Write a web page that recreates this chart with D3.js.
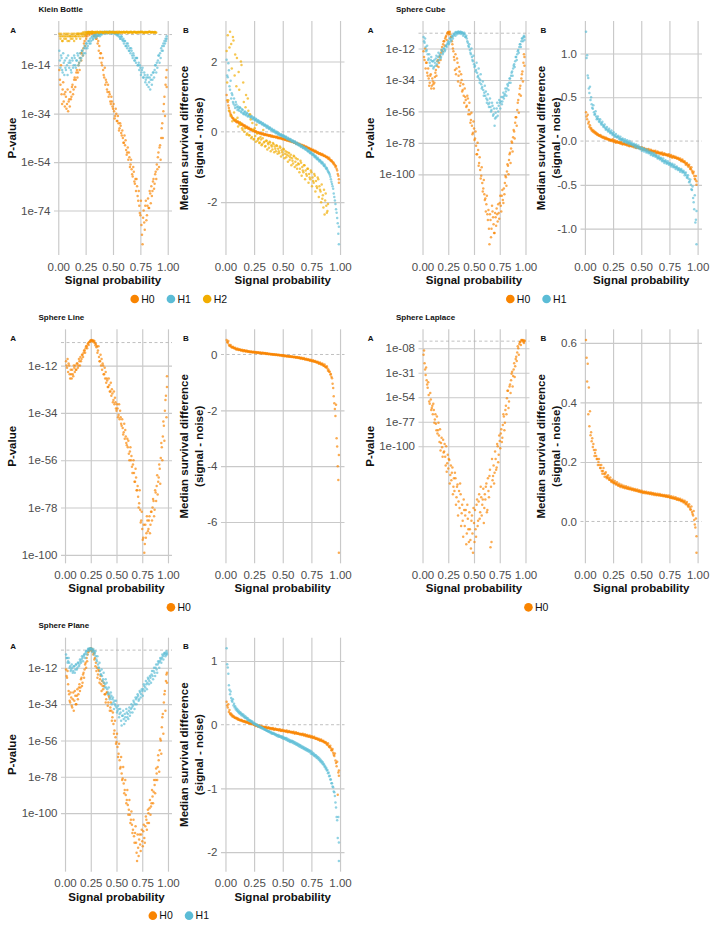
<!DOCTYPE html>
<html>
<head>
<meta charset="utf-8">
<script src="https://cdn.jsdelivr.net/npm/d3@7"></script>
<style>
  body { margin: 0; background: #fff; }
  svg { display: block; }
  text { font-family: "Liberation Sans", Arial, Helvetica, sans-serif; }
  .title { font-size: 8px; font-weight: bold; fill: #111; }
  .tag { font-size: 8px; font-weight: bold; fill: #111; }
  .axtitle { font-size: 11.5px; font-weight: bold; fill: #111; }
  .axis text { font-size: 11.5px; fill: #4d4d4d; }
  .axis line { stroke: #c9c9c9; stroke-width: 1.15; }
  .legend text { font-size: 10.5px; fill: #111; }
</style>
</head>
<body>
<svg id="chart" width="715" height="925"></svg>
<script>
// signal probability for run a and run b
const signalProbA = [0.01,0.02,0.03,0.04,0.05,0.06,0.07,0.08,0.09,0.10,
  0.11,0.12,0.13,0.14,0.15,0.16,0.17,0.18,0.19,0.20,
  0.21,0.22,0.23,0.24,0.25,0.26,0.27,0.28,0.29,0.30,
  0.31,0.32,0.33,0.34,0.35,0.36,0.37,0.38,0.39,0.40,
  0.41,0.42,0.43,0.44,0.45,0.46,0.47,0.48,0.49,0.50,
  0.51,0.52,0.53,0.54,0.55,0.56,0.57,0.58,0.59,0.60,
  0.61,0.62,0.63,0.64,0.65,0.66,0.67,0.68,0.69,0.70,
  0.71,0.72,0.73,0.74,0.75,0.76,0.77,0.78,0.79,0.80,
  0.81,0.82,0.83,0.84,0.85,0.86,0.87,0.88,0.89,0.90,
  0.91,0.92,0.93,0.94,0.95,0.96,0.97,0.98,0.99];
const signalProbB = [0.015,0.025,0.035,0.045,0.055,0.065,0.075,0.085,0.095,0.105,
  0.115,0.125,0.135,0.145,0.155,0.165,0.175,0.185,0.195,0.205,
  0.215,0.225,0.235,0.245,0.255,0.265,0.275,0.285,0.295,0.305,
  0.315,0.325,0.335,0.345,0.355,0.365,0.375,0.385,0.395,0.405,
  0.415,0.425,0.435,0.445,0.455,0.465,0.475,0.485,0.495,0.505,
  0.515,0.525,0.535,0.545,0.555,0.565,0.575,0.585,0.595,0.605,
  0.615,0.625,0.635,0.645,0.655,0.665,0.675,0.685,0.695,0.705,
  0.715,0.725,0.735,0.745,0.755,0.765,0.775,0.785,0.795,0.805,
  0.815,0.825,0.835,0.845,0.855,0.865,0.875,0.885,0.895,0.905,
  0.915,0.925,0.935,0.945,0.955,0.965,0.975,0.985,0.99];
const probTicks = [0, 0.25, 0.5, 0.75, 1];

// p-values are stored as log10(p); two runs (a, b) per hypothesis
// Klein Bottle
const kleinP_H0a = [-16,-22,-26,-24,-29,-31,-27,-30,-33,-28,
  -25,-27,-22,-24,-19,-20,-16,-17,-13,-11,
  -12,-8,-7,-4,-2,-1.2,-0.6,-0.2,-0.8,-0.3,
  -0.9,-0.4,-2,-1.3,-3,-5,-8,-11,-9,-14,
  -16,-19,-22,-21,-25,-27,-26,-30,-29,-32,
  -33,-35,-34,-37,-38,-40,-39,-43,-44,-46,
  -47,-49,-50,-53,-52,-55,-57,-60,-58,-63,
  -66,-64,-70,-72,-76,-80,-88,-74,-82,-70,
  -76,-69,-73,-67,-64,-66,-61,-63,-58,-55,
  -52,-56,-47,-44,-38,-33,-27,-22,-16];
const kleinP_H0b = [-20,-14,-30,-21,-26,-25,-32,-24,-29,-31,
  -28,-23,-26,-20,-23,-17,-19,-14,-16,-9,
  -9,-10,-5,-6,-3,-2,-0.5,-1.5,-0.4,-1,
  -0.3,-1.8,-0.6,-3,-2,-4,-6,-9,-13,-11,
  -18,-15,-20,-24,-22,-25,-29,-27,-31,-30,
  -36,-32,-37,-35,-41,-38,-42,-41,-46,-43,
  -45,-51,-48,-50,-56,-53,-59,-56,-62,-61,
  -61,-68,-66,-75,-70,-84,-77,-79,-72,-78,
  -72,-73,-66,-71,-68,-62,-65,-59,-61,-57,
  -50,-48,-53,-40,-44,-30,-35,-19,-23];
const kleinP_H1a = [-8,-15,-11,-17,-13,-12,-16,-14,-10,-15,
  -13,-17,-12,-14,-11,-15,-12,-10,-13,-9,
  -11,-8,-9,-6,-7,-5,-6,-4,-3,-4,
  -2,-3,-2.4,-1.2,-2,-1,-1.5,-2,-0.6,-1,
  -0.3,-0.8,-0.2,-0.4,-0.9,-0.1,-0.3,-0.5,-1,-0.2,
  -0.6,-1.1,-0.8,-1.4,-2,-2.3,-3,-2.2,-4,-5,
  -4,-6,-7,-6,-8,-9,-8,-11,-10,-12,
  -13,-11,-14,-16,-15,-17,-15,-19,-18,-20,
  -22,-19,-21,-24,-18,-20,-17,-16,-14,-13,
  -12,-10,-9,-7,-6,-5,-4,-3,-3];
const kleinP_H1b = [-12,-10,-16,-9,-18,-15,-11,-18,-13,-12,
  -16,-11,-15,-10,-14,-12,-9,-14,-11,-12,
  -8,-10,-7,-9,-5,-7,-4,-5,-5,-2.5,
  -3.5,-1.5,-1.8,-2.6,-0.8,-1.8,-0.5,-1.1,-1.4,-0.3,
  -0.5,-0.2,-0.7,-0.1,-0.4,-0.6,-0.2,-0.3,-0.4,-0.7,
  -0.3,-0.5,-1.6,-1,-1.2,-3,-2,-3.5,-3,-4,
  -6,-5,-5,-8,-7,-7,-10,-9,-12,-11,
  -11,-14,-13,-14,-18,-16,-19,-17,-21,-19,
  -18,-23,-19,-20,-22,-17,-19,-14,-17,-15,
  -10,-13,-11,-8,-8,-6,-5,-4,-2];
const kleinP_H2a = [-1,-3,-2,-4,-1,-2,-3,-1,-2,-4,
  -2,-1,-3,-2,-1,-2,-1,-2,-1,-3,
  -1,-1,-2,-0.3,-1,-0.5,-0.2,-0.8,-0.3,-0.6,
  -0.1,-0.4,-0.7,-0.2,-0.5,-0.3,-0.6,-0.1,-0.4,-0.2,
  -0.7,-0.3,-0.5,-0.2,-0.4,-0.6,-0.1,-0.3,-0.5,-0.2,
  -0.4,-0.7,-0.3,-0.1,-0.5,-0.2,-0.6,-0.3,-0.4,-0.1,
  -0.5,-0.3,-0.2,-0.6,-0.4,-0.1,-0.3,-0.5,-0.2,-0.4,
  -0.6,-0.2,-0.3,-0.5,-0.1,-0.4,-0.2,-0.6,-0.3,-0.5,
  -0.2,-0.4,-0.1,-0.3,-0.5,-0.2,-0.4,-0.3,-0.6];
const kleinP_H2b = [-2,-1,-4,-2,-3,-1,-2,-4,-1,-2,
  -3,-2,-1,-4,-2,-3,-1,-1,-2,-1,
  -2,-0.5,-1,-1.5,-0.4,-0.8,-0.3,-0.5,-0.7,-0.2,
  -0.3,-0.6,-0.2,-0.5,-0.1,-0.4,-0.7,-0.3,-0.2,-0.5,
  -0.6,-0.1,-0.4,-0.3,-0.7,-0.2,-0.5,-0.4,-0.1,-0.6,
  -0.3,-0.2,-0.5,-0.7,-0.1,-0.4,-0.3,-0.6,-0.2,-0.5,
  -0.4,-0.1,-0.6,-0.3,-0.5,-0.2,-0.7,-0.4,-0.1,-0.3,
  -0.5,-0.6,-0.2,-0.4,-0.3,-0.1,-0.5,-0.7,-0.2,-0.4,
  -0.6,-0.3,-0.1,-0.5,-0.2,-0.4,-0.6,-0.3,-0.5];
const kleinDiff_H0a = [1.05,0.85,0.68,0.55,0.47,0.40,0.38,0.33,0.33,0.27,
  0.29,0.24,0.25,0.20,0.21,0.16,0.17,0.12,0.13,0.09,
  0.09,0.06,0.06,0.02,0.03,0.00,0.00,-0.03,-0.02,-0.05,
  -0.04,-0.07,-0.05,-0.09,-0.07,-0.10,-0.09,-0.12,-0.10,-0.14,
  -0.12,-0.15,-0.14,-0.16,-0.15,-0.18,-0.17,-0.19,-0.18,-0.21,
  -0.20,-0.23,-0.22,-0.25,-0.23,-0.27,-0.26,-0.29,-0.28,-0.31,
  -0.31,-0.34,-0.33,-0.37,-0.36,-0.39,-0.38,-0.42,-0.41,-0.44,
  -0.44,-0.47,-0.47,-0.50,-0.50,-0.53,-0.53,-0.57,-0.56,-0.60,
  -0.60,-0.63,-0.62,-0.66,-0.65,-0.69,-0.69,-0.72,-0.72,-0.77,
  -0.78,-0.83,-0.84,-0.90,-0.92,-1.00,-1.05,-1.20,-1.35];
const kleinDiff_H0b = [0.90,0.75,0.60,0.50,0.43,0.38,0.34,0.31,0.28,0.30,
  0.25,0.27,0.21,0.23,0.18,0.19,0.14,0.15,0.11,0.12,
  0.07,0.08,0.04,0.05,0.01,0.02,-0.02,-0.01,-0.04,-0.03,
  -0.06,-0.05,-0.08,-0.07,-0.09,-0.08,-0.11,-0.10,-0.12,-0.11,
  -0.14,-0.13,-0.15,-0.14,-0.17,-0.16,-0.18,-0.17,-0.20,-0.19,
  -0.22,-0.21,-0.24,-0.22,-0.26,-0.25,-0.28,-0.27,-0.30,-0.29,
  -0.33,-0.32,-0.35,-0.34,-0.38,-0.37,-0.40,-0.39,-0.43,-0.42,
  -0.46,-0.45,-0.49,-0.48,-0.52,-0.51,-0.55,-0.54,-0.58,-0.57,
  -0.62,-0.61,-0.65,-0.63,-0.68,-0.67,-0.71,-0.71,-0.75,-0.74,
  -0.80,-0.81,-0.86,-0.88,-0.95,-0.97,-1.10,-1.25,-1.45];
const kleinDiff_H1a = [2.05,1.55,1.75,1.20,0.95,1.05,0.80,0.75,0.85,0.70,
  0.72,0.60,0.68,0.55,0.62,0.50,0.58,0.47,0.52,0.45,
  0.48,0.40,0.44,0.36,0.40,0.33,0.35,0.28,0.31,0.25,
  0.27,0.21,0.23,0.17,0.19,0.12,0.15,0.08,0.11,0.04,
  0.06,0.00,0.02,-0.04,-0.02,-0.08,-0.06,-0.11,-0.09,-0.14,
  -0.12,-0.17,-0.15,-0.21,-0.19,-0.24,-0.22,-0.28,-0.26,-0.31,
  -0.29,-0.35,-0.33,-0.39,-0.37,-0.43,-0.41,-0.47,-0.45,-0.51,
  -0.50,-0.56,-0.55,-0.61,-0.60,-0.66,-0.65,-0.72,-0.71,-0.78,
  -0.77,-0.84,-0.83,-0.90,-0.89,-0.97,-0.98,-1.06,-1.08,-1.15,
  -1.22,-1.35,-1.48,-1.62,-1.85,-2.05,-2.30,-2.60,-3.20];
const kleinDiff_H1b = [1.60,1.95,1.30,1.45,1.10,0.85,0.95,0.68,0.78,0.62,
  0.66,0.70,0.58,0.64,0.52,0.56,0.50,0.54,0.44,0.49,
  0.42,0.45,0.38,0.41,0.34,0.37,0.30,0.33,0.26,0.29,
  0.23,0.25,0.19,0.21,0.15,0.17,0.11,0.13,0.07,0.09,
  0.03,0.05,-0.01,0.01,-0.05,-0.03,-0.09,-0.07,-0.12,-0.10,
  -0.15,-0.13,-0.19,-0.17,-0.22,-0.20,-0.26,-0.24,-0.29,-0.27,
  -0.33,-0.31,-0.37,-0.35,-0.41,-0.39,-0.45,-0.43,-0.49,-0.47,
  -0.54,-0.52,-0.59,-0.57,-0.64,-0.62,-0.69,-0.68,-0.75,-0.74,
  -0.81,-0.80,-0.87,-0.86,-0.94,-0.93,-1.02,-1.03,-1.12,-1.18,
  -1.28,-1.42,-1.55,-1.75,-1.95,-2.20,-2.45,-2.90,-2.70];
const kleinDiff_H2a = [2.30,2.75,0.60,2.85,2.50,0.30,2.60,1.60,0.35,2.10,
  0.15,1.20,0.25,1.90,0.05,0.85,0.10,1.05,-0.05,0.60,
  -0.10,0.35,-0.15,0.05,-0.20,-0.12,0.20,-0.25,-0.18,-0.30,
  -0.22,-0.35,0.05,-0.28,-0.40,-0.25,-0.32,-0.45,-0.30,-0.38,
  -0.50,-0.35,-0.42,-0.55,-0.40,-0.48,-0.60,-0.45,-0.52,-0.65,
  -0.50,-0.62,-0.72,-0.58,-0.68,-0.80,-0.65,-0.75,-0.90,-0.70,
  -0.85,-0.95,-0.78,-0.92,-1.05,-0.88,-1.00,-1.15,-0.95,-1.10,
  -1.25,-1.05,-1.20,-1.35,-1.15,-1.30,-1.45,-1.25,-1.40,-1.60,
  -1.35,-1.55,-1.70,-1.50,-1.80,-1.65,-1.95,-2.10,-2.25];
const kleinDiff_H2b = [1.40,0.90,2.40,0.45,1.80,2.70,0.55,2.20,1.30,0.40,
  1.70,0.20,2.00,0.10,1.40,0.00,0.70,-0.08,0.95,-0.10,
  0.50,-0.18,0.25,-0.22,0.10,-0.28,-0.05,-0.20,-0.32,-0.15,
  -0.38,-0.18,-0.30,-0.42,-0.25,-0.50,-0.35,-0.28,-0.55,-0.42,
  -0.32,-0.58,-0.48,-0.38,-0.62,-0.55,-0.42,-0.70,-0.58,-0.48,
  -0.75,-0.55,-0.65,-0.85,-0.60,-0.72,-0.95,-0.82,-0.68,-1.00,
  -0.75,-1.05,-0.90,-1.15,-0.82,-1.25,-1.10,-0.95,-1.35,-1.20,
  -1.05,-1.45,-1.30,-1.10,-1.55,-1.40,-1.20,-1.70,-1.55,-1.30,
  -1.85,-1.65,-2.00,-1.90,-2.15,-2.35,-1.75,-2.30,-2.05];

// Sphere Cube
const cubeP_H0a = [-14,-20,-26,-22,-31,-33,-36,-30,-38,-35,
  -40,-32,-27,-24,-20,-22,-17,-15,-11,-9,
  -7,-5,-3,-1.5,-0.4,-0.8,-2,-4,-9,-14,
  -20,-16,-26,-22,-31,-28,-36,-34,-41,-45,
  -40,-48,-52,-47,-55,-58,-62,-66,-71,-68,
  -75,-80,-86,-83,-92,-97,-101,-106,-110,-114,
  -117,-121,-128,-125,-149,-132,-138,-126,-135,-141,
  -130,-124,-133,-127,-120,-122,-115,-118,-110,-106,
  -102,-98,-94,-90,-85,-82,-78,-74,-70,-64,
  -60,-55,-48,-44,-38,-33,-28,-22,-18];
const cubeP_H0b = [-18,-12,-22,-29,-26,-38,-31,-40,-33,-37,
  -36,-29,-31,-21,-25,-18,-20,-13,-14,-7,
  -10,-4,-6,-0.8,-2,-0.3,-4,-7,-12,-18,
  -27,-30,-19,-35,-25,-38,-30,-42,-37,-50,
  -46,-53,-45,-58,-50,-64,-57,-72,-63,-76,
  -70,-86,-78,-94,-88,-103,-95,-112,-104,-118,
  -126,-115,-132,-138,-128,-144,-122,-130,-141,-127,
  -136,-128,-121,-131,-115,-126,-111,-120,-114,-101,
  -108,-93,-100,-86,-92,-77,-84,-69,-75,-60,
  -66,-50,-57,-40,-45,-30,-35,-16,-24];
const cubeP_H1a = [-4,-8,-11,-13,-16,-19,-22,-20,-24,-21,
  -25,-22,-19,-23,-18,-20,-16,-18,-14,-15,
  -12,-13,-10,-9,-7,-8,-5,-6,-4,-3,
  -2,-3,-1.2,-0.8,-0.2,-0.9,-0.3,-1,-1.4,-2,
  -2,-4,-5,-8,-11,-13,-16,-18,-21,-23,
  -24,-27,-29,-31,-33,-34,-37,-39,-41,-43,
  -45,-47,-48,-51,-50,-53,-55,-52,-58,-66,
  -57,-54,-59,-52,-50,-49,-51,-46,-47,-44,
  -42,-40,-38,-36,-33,-31,-28,-26,-23,-21,
  -18,-16,-13,-11,-9,-7,-5,-4,-6];
const cubeP_H1b = [-7,-5,-14,-10,-20,-16,-24,-18,-21,-26,
  -20,-24,-17,-21,-15,-17,-19,-13,-16,-12,
  -14,-10,-11,-8,-9,-5,-7,-3,-5,-2,
  -1,-0.4,-2,-0.3,-1.5,-0.5,-1.8,-0.6,-3,-0.9,
  -4,-3,-7,-10,-9,-15,-12,-20,-17,-25,
  -28,-22,-32,-26,-36,-30,-40,-35,-45,-38,
  -42,-50,-44,-53,-47,-56,-50,-59,-54,-61,
  -60,-50,-56,-48,-54,-46,-49,-43,-45,-40,
  -45,-37,-41,-33,-36,-29,-31,-24,-25,-18,
  -20,-14,-15,-9,-11,-5,-7,-3,-4];
const cubeDiff_H0a = [0.33,0.25,0.20,0.16,0.14,0.12,0.11,0.10,0.09,0.08,
  0.07,0.07,0.06,0.05,0.05,0.04,0.04,0.03,0.03,0.03,
  0.02,0.02,0.01,0.01,0.00,0.00,-0.01,-0.01,-0.01,-0.02,
  -0.02,-0.02,-0.03,-0.03,-0.03,-0.04,-0.04,-0.04,-0.05,-0.05,
  -0.05,-0.06,-0.06,-0.06,-0.07,-0.07,-0.07,-0.08,-0.08,-0.08,
  -0.09,-0.09,-0.09,-0.10,-0.10,-0.10,-0.11,-0.11,-0.11,-0.12,
  -0.12,-0.12,-0.13,-0.13,-0.13,-0.14,-0.14,-0.14,-0.15,-0.15,
  -0.15,-0.16,-0.16,-0.16,-0.17,-0.17,-0.18,-0.18,-0.18,-0.19,
  -0.19,-0.20,-0.20,-0.21,-0.22,-0.22,-0.23,-0.24,-0.25,-0.26,
  -0.27,-0.28,-0.30,-0.32,-0.34,-0.37,-0.40,-0.44,-0.50];
const cubeDiff_H0b = [0.28,0.30,0.22,0.18,0.15,0.13,0.12,0.11,0.10,0.09,
  0.08,0.06,0.07,0.06,0.04,0.05,0.03,0.04,0.02,0.02,
  0.01,0.01,0.00,0.02,-0.01,0.01,-0.02,0.00,-0.02,-0.01,
  -0.03,-0.01,-0.04,-0.02,-0.04,-0.03,-0.05,-0.03,-0.06,-0.04,
  -0.06,-0.05,-0.07,-0.05,-0.08,-0.06,-0.08,-0.07,-0.09,-0.07,
  -0.10,-0.08,-0.10,-0.09,-0.11,-0.09,-0.12,-0.10,-0.12,-0.11,
  -0.13,-0.11,-0.14,-0.12,-0.14,-0.13,-0.15,-0.13,-0.16,-0.14,
  -0.16,-0.15,-0.17,-0.15,-0.18,-0.16,-0.19,-0.17,-0.19,-0.18,
  -0.20,-0.19,-0.21,-0.20,-0.23,-0.21,-0.24,-0.23,-0.27,-0.25,
  -0.29,-0.27,-0.32,-0.30,-0.36,-0.35,-0.43,-0.40,-0.46];
const cubeDiff_H1a = [1.25,0.98,0.72,0.55,0.47,0.42,0.37,0.33,0.31,0.28,
  0.26,0.25,0.23,0.21,0.20,0.18,0.17,0.15,0.14,0.13,
  0.12,0.11,0.10,0.09,0.08,0.07,0.06,0.05,0.05,0.04,
  0.03,0.02,0.02,0.01,0.00,0.00,-0.01,-0.01,-0.02,-0.02,
  -0.03,-0.04,-0.04,-0.05,-0.05,-0.06,-0.07,-0.07,-0.08,-0.09,
  -0.09,-0.10,-0.10,-0.11,-0.12,-0.12,-0.13,-0.14,-0.14,-0.15,
  -0.16,-0.16,-0.17,-0.18,-0.19,-0.19,-0.20,-0.21,-0.22,-0.23,
  -0.23,-0.24,-0.25,-0.25,-0.26,-0.27,-0.27,-0.28,-0.29,-0.30,
  -0.30,-0.31,-0.32,-0.33,-0.33,-0.34,-0.35,-0.36,-0.37,-0.39,
  -0.41,-0.43,-0.46,-0.50,-0.56,-0.65,-0.78,-0.93,-1.18];
const cubeDiff_H1b = [0.95,0.75,0.60,0.62,0.50,0.38,0.41,0.30,0.34,0.25,
  0.28,0.22,0.25,0.19,0.22,0.16,0.19,0.13,0.16,0.11,
  0.14,0.09,0.12,0.07,0.10,0.05,0.08,0.04,0.06,0.02,
  0.05,0.01,0.03,-0.01,0.02,-0.02,0.01,-0.03,0.00,-0.04,
  -0.02,-0.05,-0.03,-0.07,-0.04,-0.08,-0.05,-0.09,-0.07,-0.11,
  -0.08,-0.12,-0.09,-0.13,-0.10,-0.14,-0.12,-0.16,-0.13,-0.17,
  -0.14,-0.18,-0.16,-0.20,-0.17,-0.21,-0.19,-0.23,-0.20,-0.25,
  -0.22,-0.26,-0.23,-0.27,-0.25,-0.29,-0.26,-0.30,-0.27,-0.32,
  -0.29,-0.33,-0.31,-0.35,-0.32,-0.36,-0.34,-0.39,-0.36,-0.42,
  -0.39,-0.47,-0.44,-0.55,-0.52,-0.70,-0.62,-0.90,-0.80];

// Sphere Line
const lineP_H0a = [-10,-13,-15,-12,-18,-16,-14,-17,-13,-12,
  -14,-11,-12,-10,-8,-9,-7,-6,-5,-4,
  -3,-2,-2.4,-1,-0.4,-0.1,-0.5,-1.2,-1.5,-2,
  -3,-5,-8,-10,-12,-14,-12,-16,-18,-20,
  -19,-22,-21,-24,-26,-25,-28,-30,-29,-33,
  -32,-35,-37,-36,-40,-41,-43,-46,-45,-49,
  -50,-53,-52,-56,-59,-58,-62,-66,-64,-70,
  -73,-76,-79,-84,-88,-92,-99,-86,-90,-84,
  -88,-82,-86,-80,-78,-75,-79,-71,-68,-72,
  -64,-60,-55,-50,-45,-40,-33,-26,-17];
const lineP_H0b = [-12,-9,-11,-16,-14,-18,-16,-12,-15,-14,
  -11,-13,-9,-12,-10,-7,-8,-5,-6,-3,
  -4,-1.5,-1,-0.5,-0.2,-0.8,-0.3,-0.6,-2.5,-3.5,
  -6,-3,-10,-7,-9,-11,-16,-13,-15,-18,
  -22,-18,-24,-20,-23,-29,-24,-27,-32,-30,
  -36,-30,-33,-39,-37,-44,-39,-42,-48,-46,
  -47,-56,-50,-54,-62,-56,-66,-60,-70,-68,
  -78,-70,-85,-80,-93,-86,-95,-92,-82,-89,
  -84,-90,-80,-84,-74,-82,-70,-75,-63,-66,
  -58,-67,-48,-56,-38,-47,-28,-36,-22];
const lineDiff_H0a = [0.52,0.42,0.35,0.31,0.28,0.26,0.24,0.22,0.20,0.19,
  0.18,0.17,0.16,0.15,0.14,0.14,0.13,0.12,0.12,0.11,
  0.10,0.10,0.09,0.09,0.08,0.08,0.07,0.07,0.06,0.06,
  0.05,0.05,0.05,0.04,0.04,0.03,0.03,0.02,0.02,0.01,
  0.01,0.00,0.00,-0.01,-0.01,-0.02,-0.02,-0.03,-0.03,-0.04,
  -0.04,-0.05,-0.05,-0.06,-0.06,-0.07,-0.07,-0.08,-0.09,-0.09,
  -0.10,-0.10,-0.11,-0.12,-0.13,-0.13,-0.14,-0.15,-0.16,-0.17,
  -0.18,-0.19,-0.20,-0.21,-0.22,-0.23,-0.24,-0.25,-0.27,-0.28,
  -0.30,-0.31,-0.33,-0.35,-0.37,-0.40,-0.43,-0.46,-0.50,-0.55,
  -0.62,-0.70,-0.85,-1.20,-1.75,-2.20,-3.00,-4.00,-7.10];
const lineDiff_H0b = [0.45,0.48,0.30,0.34,0.25,0.28,0.22,0.24,0.18,0.21,
  0.16,0.19,0.14,0.17,0.12,0.15,0.11,0.14,0.10,0.12,
  0.08,0.11,0.07,0.10,0.06,0.09,0.05,0.08,0.04,0.07,
  0.03,0.06,0.03,0.05,0.02,0.04,0.01,0.03,0.00,0.02,
  -0.01,0.01,-0.02,0.00,-0.03,-0.01,-0.04,-0.02,-0.05,-0.03,
  -0.06,-0.04,-0.07,-0.05,-0.08,-0.06,-0.09,-0.07,-0.10,-0.08,
  -0.12,-0.09,-0.13,-0.10,-0.15,-0.12,-0.16,-0.13,-0.18,-0.15,
  -0.20,-0.17,-0.22,-0.19,-0.24,-0.21,-0.26,-0.23,-0.29,-0.26,
  -0.33,-0.29,-0.36,-0.32,-0.40,-0.36,-0.46,-0.42,-0.58,-0.62,
  -0.72,-0.80,-1.05,-1.50,-1.95,-1.80,-3.30,-4.50,-3.60];

// Sphere Laplace
const laplaceP_H0a = [-14,-22,-33,-38,-45,-52,-60,-56,-64,-70,
  -66,-75,-79,-72,-85,-90,-84,-97,-101,-94,
  -105,-110,-100,-116,-121,-113,-127,-132,-120,-138,
  -142,-130,-148,-136,-152,-158,-145,-163,-170,-150,
  -175,-160,-182,-168,-190,-178,-196,-165,-200,-172,
  -160,-185,-150,-170,-145,-162,-148,-155,-140,-158,
  -150,-135,-160,-142,-128,-195,-190,-132,-118,-125,
  -112,-120,-100,-108,-95,-88,-96,-80,-72,-78,
  -62,-55,-48,-58,-42,-38,-30,-34,-22,-25,
  -16,-12,-8,-4,-2,-0.3,-1,-2,-1.2];
const laplaceP_H0b = [-10,-28,-26,-42,-40,-58,-50,-66,-62,-60,
  -78,-70,-85,-88,-78,-96,-104,-92,-110,-106,
  -98,-118,-124,-108,-112,-135,-118,-125,-145,-130,
  -125,-155,-138,-165,-142,-135,-175,-155,-185,-160,
  -165,-192,-155,-178,-162,-188,-170,-182,-158,-190,
  -178,-155,-175,-152,-168,-138,-165,-150,-172,-145,
  -138,-162,-130,-148,-122,-138,-112,-128,-135,-105,
  -122,-98,-115,-90,-102,-84,-92,-70,-85,-66,
  -70,-48,-64,-44,-50,-32,-44,-28,-35,-18,
  -20,-6,-14,-2,-5,-0.5,-0.2,-3,-0.6];
const laplaceDiff_H0a = [0.61,0.47,0.36,0.32,0.29,0.27,0.25,0.24,0.23,0.22,
  0.21,0.20,0.19,0.18,0.17,0.17,0.16,0.16,0.15,0.15,
  0.145,0.14,0.138,0.135,0.133,0.13,0.128,0.126,0.124,0.122,
  0.12,0.119,0.118,0.116,0.115,0.114,0.113,0.112,0.111,0.11,
  0.109,0.108,0.107,0.106,0.105,0.104,0.103,0.102,0.101,0.10,
  0.099,0.098,0.098,0.097,0.096,0.096,0.095,0.094,0.094,0.093,
  0.092,0.092,0.091,0.09,0.09,0.089,0.088,0.088,0.087,0.086,
  0.086,0.085,0.084,0.083,0.082,0.081,0.08,0.079,0.078,0.077,
  0.076,0.075,0.074,0.073,0.071,0.07,0.068,0.066,0.063,0.06,
  0.056,0.052,0.047,0.04,0.032,0.02,0.005,-0.02,-0.105];
const laplaceDiff_H0b = [0.55,0.53,0.45,0.37,0.30,0.28,0.26,0.22,0.24,0.21,
  0.19,0.21,0.18,0.19,0.16,0.18,0.15,0.165,0.145,0.155,
  0.14,0.148,0.133,0.14,0.128,0.136,0.124,0.132,0.12,0.127,
  0.116,0.123,0.114,0.12,0.112,0.118,0.11,0.116,0.108,0.113,
  0.106,0.111,0.104,0.109,0.102,0.107,0.1,0.105,0.098,0.103,
  0.096,0.101,0.095,0.1,0.094,0.098,0.092,0.097,0.091,0.096,
  0.089,0.094,0.088,0.093,0.087,0.092,0.086,0.09,0.085,0.089,
  0.083,0.088,0.082,0.087,0.08,0.085,0.078,0.083,0.076,0.081,
  0.073,0.078,0.071,0.076,0.068,0.073,0.064,0.07,0.058,0.065,
  0.05,0.058,0.04,0.05,0.025,0.035,-0.01,0.01,-0.05];

// Sphere Plane
const planeP_H0a = [-13,-18,-22,-28,-33,-30,-36,-27,-32,-29,
  -34,-25,-28,-22,-24,-18,-21,-15,-13,-9,
  -6,-4,-2,-1,-0.2,-0.5,-1.2,-3,-6,-9,
  -12,-16,-14,-19,-22,-20,-25,-23,-28,-31,
  -27,-33,-30,-36,-38,-42,-46,-50,-54,-57,
  -60,-64,-68,-72,-76,-79,-82,-86,-89,-92,
  -95,-98,-101,-104,-107,-110,-114,-112,-118,-129,
  -121,-116,-119,-113,-117,-111,-115,-108,-104,-106,
  -100,-97,-101,-94,-90,-87,-83,-80,-76,-72,
  -68,-62,-56,-48,-40,-33,-26,-20,-15];
const planeP_H0b = [-17,-14,-26,-32,-27,-35,-31,-38,-26,-34,
  -29,-31,-24,-26,-19,-23,-16,-18,-10,-12,
  -8,-2.5,-1,-0.4,-1.5,-2,-4,-7,-11,-14,
  -18,-13,-21,-17,-26,-23,-21,-28,-33,-27,
  -35,-29,-38,-33,-44,-39,-52,-44,-58,-52,
  -66,-58,-73,-66,-80,-72,-88,-80,-94,-86,
  -101,-92,-106,-99,-112,-104,-118,-108,-124,-113,
  -126,-113,-123,-110,-120,-107,-118,-102,-110,-98,
  -106,-92,-96,-86,-94,-80,-88,-73,-80,-65,
  -75,-55,-64,-42,-52,-28,-38,-16,-21];
const planeP_H1a = [-4,-6,-8,-9,-11,-13,-12,-14,-11,-13,
  -10,-12,-9,-10,-8,-7,-6,-5,-4,-3,
  -2,-1.2,-0.6,-0.2,-0.4,-0.9,-1.4,-2,-3,-5,
  -8,-10,-12,-14,-16,-17,-19,-21,-22,-24,
  -25,-27,-28,-30,-29,-31,-33,-32,-35,-36,
  -38,-37,-40,-39,-47,-41,-43,-40,-44,-39,
  -40,-38,-41,-37,-36,-35,-33,-34,-31,-30,
  -29,-31,-27,-28,-26,-25,-23,-24,-22,-21,
  -19,-20,-18,-16,-17,-14,-15,-12,-13,-10,
  -9,-8,-7,-6,-5,-4,-3,-4,-3];
const planeP_H1b = [-6,-9,-6,-12,-14,-10,-15,-11,-15,-10,
  -13,-9,-11,-7,-9,-5,-8,-4,-6,-2,
  -4,-0.5,-1.8,-1,-0.2,-2.5,-0.6,-4,-2,-7,
  -5,-12,-9,-16,-13,-20,-15,-24,-19,-21,
  -28,-24,-31,-27,-34,-30,-37,-34,-32,-39,
  -35,-42,-37,-44,-41,-38,-46,-42,-37,-42,
  -43,-36,-39,-34,-39,-32,-37,-30,-34,-28,
  -32,-26,-30,-25,-29,-22,-26,-20,-25,-18,
  -22,-17,-21,-14,-19,-12,-17,-10,-15,-8,
  -12,-6,-9,-4,-7,-3,-5,-2,-4];
const planeDiff_H0a = [0.36,0.27,0.20,0.17,0.15,0.13,0.12,0.11,0.10,0.09,
  0.08,0.08,0.07,0.06,0.06,0.05,0.05,0.04,0.03,0.03,
  0.02,0.02,0.01,0.01,0.00,-0.01,-0.01,-0.02,-0.02,-0.03,
  -0.03,-0.03,-0.04,-0.04,-0.04,-0.05,-0.05,-0.05,-0.06,-0.06,
  -0.06,-0.07,-0.07,-0.07,-0.08,-0.08,-0.08,-0.09,-0.09,-0.09,
  -0.10,-0.10,-0.10,-0.11,-0.11,-0.11,-0.12,-0.12,-0.12,-0.13,
  -0.13,-0.13,-0.14,-0.14,-0.15,-0.15,-0.15,-0.16,-0.16,-0.17,
  -0.17,-0.18,-0.18,-0.19,-0.19,-0.20,-0.20,-0.21,-0.22,-0.22,
  -0.23,-0.24,-0.24,-0.25,-0.26,-0.27,-0.28,-0.29,-0.31,-0.33,
  -0.35,-0.37,-0.40,-0.44,-0.49,-0.56,-0.65,-1.10,-0.80];
const planeDiff_H0b = [0.30,0.32,0.23,0.18,0.16,0.14,0.13,0.11,0.11,0.10,
  0.09,0.07,0.08,0.07,0.05,0.06,0.04,0.05,0.04,0.02,
  0.03,0.01,0.02,0.00,0.01,-0.02,0.00,-0.03,-0.01,-0.04,
  -0.02,-0.04,-0.03,-0.05,-0.03,-0.06,-0.04,-0.06,-0.05,-0.07,
  -0.05,-0.08,-0.06,-0.08,-0.07,-0.09,-0.07,-0.10,-0.08,-0.10,
  -0.09,-0.11,-0.09,-0.12,-0.10,-0.12,-0.11,-0.13,-0.11,-0.14,
  -0.12,-0.14,-0.13,-0.15,-0.14,-0.16,-0.14,-0.17,-0.15,-0.18,
  -0.16,-0.19,-0.17,-0.20,-0.18,-0.21,-0.19,-0.22,-0.21,-0.23,
  -0.22,-0.25,-0.23,-0.26,-0.25,-0.28,-0.27,-0.31,-0.29,-0.35,
  -0.33,-0.40,-0.38,-0.47,-0.45,-0.60,-0.58,-0.75,-0.72];
const planeDiff_H1a = [1.20,0.90,0.62,0.48,0.42,0.36,0.30,0.27,0.24,0.22,
  0.20,0.18,0.17,0.15,0.14,0.12,0.11,0.10,0.08,0.07,
  0.06,0.05,0.04,0.02,0.01,0.00,-0.01,-0.02,-0.03,-0.04,
  -0.05,-0.06,-0.06,-0.07,-0.08,-0.09,-0.10,-0.10,-0.11,-0.12,
  -0.13,-0.13,-0.14,-0.15,-0.16,-0.16,-0.17,-0.18,-0.18,-0.19,
  -0.20,-0.21,-0.21,-0.22,-0.23,-0.24,-0.25,-0.25,-0.26,-0.27,
  -0.28,-0.29,-0.30,-0.31,-0.32,-0.33,-0.34,-0.35,-0.36,-0.37,
  -0.38,-0.39,-0.40,-0.41,-0.42,-0.44,-0.45,-0.47,-0.48,-0.50,
  -0.51,-0.53,-0.55,-0.57,-0.59,-0.62,-0.65,-0.68,-0.71,-0.75,
  -0.80,-0.86,-0.92,-0.98,-1.06,-1.22,-1.45,-1.78,-2.14];
const planeDiff_H1b = [0.95,0.80,0.55,0.52,0.38,0.40,0.33,0.29,0.26,0.24,
  0.22,0.20,0.19,0.17,0.16,0.14,0.13,0.11,0.10,0.08,
  0.07,0.06,0.05,0.03,0.02,0.01,0.00,-0.01,-0.02,-0.03,
  -0.04,-0.05,-0.07,-0.08,-0.09,-0.10,-0.11,-0.12,-0.13,-0.14,
  -0.14,-0.15,-0.16,-0.17,-0.18,-0.19,-0.19,-0.20,-0.21,-0.22,
  -0.22,-0.23,-0.24,-0.25,-0.26,-0.27,-0.27,-0.28,-0.29,-0.30,
  -0.31,-0.32,-0.33,-0.34,-0.35,-0.36,-0.37,-0.38,-0.39,-0.40,
  -0.41,-0.42,-0.43,-0.45,-0.46,-0.47,-0.49,-0.50,-0.52,-0.53,
  -0.55,-0.57,-0.59,-0.61,-0.63,-0.66,-0.69,-0.72,-0.76,-0.81,
  -0.86,-0.92,-0.97,-1.05,-1.12,-1.30,-1.50,-1.45,-1.85];

// tick values
const kleinPTicks = [-14, -34, -54, -74];
const cubePTicks = [-12, -34, -56, -78, -100];
const linePTicks = [-12, -34, -56, -78, -100];
const laplacePTicks = [-8, -31, -54, -77, -100];
const planePTicks = [-12, -34, -56, -78, -100];
const kleinDiffTicks = [-2, 0, 2];
const cubeDiffTicks = [-1, -0.5, 0, 0.5, 1];
const lineDiffTicks = [-6, -4, -2, 0];
const laplaceDiffTicks = [0, 0.2, 0.4, 0.6];
const planeDiffTicks = [-2, -1, 0, 1];

const colors = { H0: "#F98400", H1: "#5BBCD6", H2: "#F2AD00" };
const runX = [signalProbA, signalProbB];

const figures = [
  { title: "Klein Bottle", col: 0, row: 0, groups: ["H0", "H1", "H2"],
    pval: [[kleinP_H0a, kleinP_H0b], [kleinP_H1a, kleinP_H1b], [kleinP_H2a, kleinP_H2b]],
    diff: [[kleinDiff_H0a, kleinDiff_H0b], [kleinDiff_H1a, kleinDiff_H1b], [kleinDiff_H2a, kleinDiff_H2b]],
    pTicks: kleinPTicks, diffTicks: kleinDiffTicks, digits: 0, aLeft: 54, bLeft: 221 },
  { title: "Sphere Cube", col: 1, row: 0, groups: ["H0", "H1"],
    pval: [[cubeP_H0a, cubeP_H0b], [cubeP_H1a, cubeP_H1b]],
    diff: [[cubeDiff_H0a, cubeDiff_H0b], [cubeDiff_H1a, cubeDiff_H1b]],
    pTicks: cubePTicks, diffTicks: cubeDiffTicks, digits: 1, aLeft: 61, bLeft: 223 },
  { title: "Sphere Line", col: 0, row: 1, groups: ["H0"],
    pval: [[lineP_H0a, lineP_H0b]], diff: [[lineDiff_H0a, lineDiff_H0b]],
    pTicks: linePTicks, diffTicks: lineDiffTicks, digits: 0, aLeft: 61, bLeft: 221 },
  { title: "Sphere Laplace", col: 1, row: 1, groups: ["H0"],
    pval: [[laplaceP_H0a, laplaceP_H0b]], diff: [[laplaceDiff_H0a, laplaceDiff_H0b]],
    pTicks: laplacePTicks, diffTicks: laplaceDiffTicks, digits: 1, aLeft: 61, bLeft: 223 },
  { title: "Sphere Plane", col: 0, row: 2, groups: ["H0", "H1"],
    pval: [[planeP_H0a, planeP_H0b], [planeP_H1a, planeP_H1b]],
    diff: [[planeDiff_H0a, planeDiff_H0b], [planeDiff_H1a, planeDiff_H1b]],
    pTicks: planePTicks, diffTicks: planeDiffTicks, digits: 0, aLeft: 61, bLeft: 221 }
];

const svg = d3.select("#chart");
svg.append("rect").attr("width", 715).attr("height", 925).attr("fill", "#fff");

const rowH = 925 / 3, colW = 715 / 2;
const panelTop = 21, panelBottom = 255;

const expFmt = e => "1e" + (e < 0 ? "-" : "+") + String(Math.abs(e)).padStart(2, "0");

function drawSub(g, o) {
  const xExt = d3.extent(signalProbA.concat(signalProbB));
  const xPad = (xExt[1] - xExt[0]) * 0.05;
  const x = d3.scaleLinear().domain([xExt[0] - xPad, xExt[1] + xPad]).range([o.left, o.right]);
  const yExt = d3.extent(o.series.flat(2).concat([o.ref]));
  const yPad = (yExt[1] - yExt[0]) * 0.05;
  const y = d3.scaleLinear().domain([yExt[0] - yPad, yExt[1] + yPad]).range([panelBottom, panelTop]);

  g.append("g").attr("class", "axis")
    .attr("transform", `translate(0,${panelBottom})`)
    .call(d3.axisBottom(x).tickValues(probTicks).tickFormat(d => d.toFixed(2))
      .tickSize(-(panelBottom - panelTop)).tickPadding(7.5));

  const ya = g.append("g").attr("class", "axis")
    .attr("transform", `translate(${o.left},0)`)
    .call(d3.axisLeft(y).tickValues(o.ticks).tickFormat(o.fmt)
      .tickSize(-(o.right - o.left)).tickPadding(3.5));
  if (o.skipZero) ya.selectAll(".tick").filter(d => d === 0).select("line").remove();
  g.selectAll(".axis .domain").remove();

  // reference line
  g.append("line")
    .attr("x1", o.left).attr("x2", o.right)
    .attr("y1", y(o.ref)).attr("y2", y(o.ref))
    .attr("stroke", "#b0b0b0").attr("stroke-width", 0.8)
    .attr("stroke-dasharray", "3,2.5");

  o.series.forEach((runs, k) => {
    const pts = runs.flatMap((vals, r) => vals.map((v, i) => [runX[r][i], v]));
    g.append("g").selectAll("circle")
      .data(pts)
      .join("circle")
      .attr("cx", d => x(d[0]))
      .attr("cy", d => y(d[1]))
      .attr("r", 1.25)
      .attr("fill", colors[o.groups[k]])
      .attr("fill-opacity", 0.68);
  });

  g.append("text")
    .attr("class", "axtitle")
    .attr("x", x(0.5)).attr("y", 284)
    .attr("text-anchor", "middle")
    .text("Signal probability");
}

figures.forEach(fig => {
  const g = svg.append("g")
    .attr("transform", `translate(${fig.col * colW},${fig.row * rowH})`);

  g.append("text").attr("class", "title").attr("x", 38.5).attr("y", 11.7).text(fig.title);
  g.append("text").attr("class", "tag").attr("x", 10.2).attr("y", 32.5).text("A");
  g.append("text").attr("class", "tag").attr("x", 183).attr("y", 32.5).text("B");

  drawSub(g, { left: fig.aLeft, right: 172, series: fig.pval, groups: fig.groups,
    ticks: fig.pTicks, fmt: expFmt, ref: Math.log10(0.05), skipZero: false });
  drawSub(g, { left: fig.bLeft, right: 344.5, series: fig.diff, groups: fig.groups,
    ticks: fig.diffTicks, fmt: d => d.toFixed(fig.digits), ref: 0, skipZero: true });

  // y axis titles
  const midY = (panelTop + panelBottom) / 2;
  g.append("text").attr("class", "axtitle")
    .attr("transform", `translate(16,${midY}) rotate(-90)`)
    .attr("text-anchor", "middle").text("P-value");
  g.append("text").attr("class", "axtitle")
    .attr("transform", `translate(187.5,${midY}) rotate(-90)`)
    .attr("text-anchor", "middle").text("Median survival difference");
  g.append("text").attr("class", "axtitle")
    .attr("transform", `translate(202.5,${midY}) rotate(-90)`)
    .attr("text-anchor", "middle").text("(signal - noise)");

  // legend
  const gap = 12;
  const leg = g.append("g").attr("class", "legend");
  let cx = 0;
  fig.groups.forEach(k => {
    const it = leg.append("g").attr("transform", `translate(${cx},0)`);
    it.append("circle").attr("r", 4.3).attr("fill", colors[k]);
    const t = it.append("text").attr("x", 6.5).attr("dy", "0.36em").text(k);
    cx += 6.5 + t.node().getComputedTextLength() + gap + 4.3;
  });
  const total = cx - gap;
  leg.attr("transform", `translate(${colW / 2 - total / 2 + 4.3},299)`);
});
</script>
</body>
</html>
